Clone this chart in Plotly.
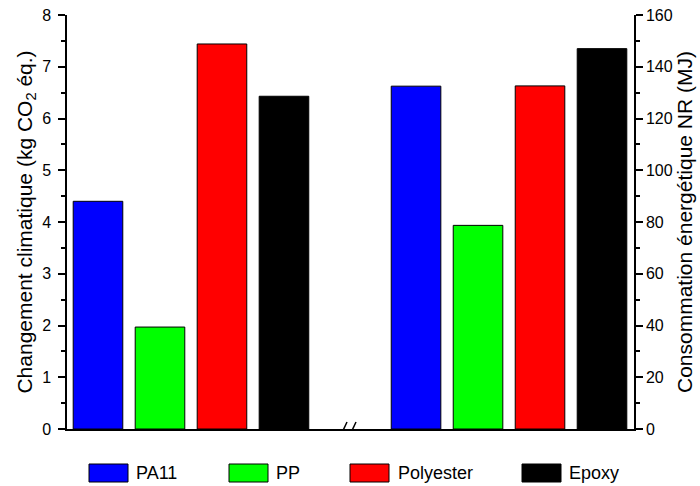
import plotly.graph_objects as go

# ---- data ----
materials = ["PA11", "PP", "Polyester", "Epoxy"]
colors = ["#0000FF", "#00FF00", "#FF0000", "#000000"]
climate_kgco2 = [4.40, 1.97, 7.44, 6.43]       # left axis
energy_mj = [132.5, 78.7, 132.6, 147.0]         # right axis
left_ticks = [0, 1, 2, 3, 4, 5, 6, 7, 8]
right_ticks = [0, 20, 40, 60, 80, 100, 120, 140, 160]

# ---- layout constants ----
W, H = 700, 486
L, R, T, B = 67, 66, 15, 57
PW, PH = W - L - R, H - T - B
group_offset = 5.13
bar_w = 0.8
FONT = "Liberation Sans, Arial, sans-serif"

def px_x(p):
    return (p - L) / PW

def px_y(p):
    return (H - B - p) / PH

fig = go.Figure()
for i, (m, c) in enumerate(zip(materials, colors)):
    fig.add_trace(go.Bar(x=[i], y=[climate_kgco2[i]], width=bar_w, marker=dict(color=c, line=dict(color="black", width=1)),
                         name=m, showlegend=False, yaxis="y", hoverinfo="skip"))
    fig.add_trace(go.Bar(x=[i + group_offset], y=[energy_mj[i]], width=bar_w, marker=dict(color=c, line=dict(color="black", width=1)),
                         name=m, showlegend=False, yaxis="y2", hoverinfo="skip"))

shapes = []
# axis break "//"
break_x = (len(materials) - 1 + group_offset) / 2
for dx in (-10, -1):
    shapes.append(dict(type="line", xref="x", yref="y", xsizemode="pixel", ysizemode="pixel",
                       xanchor=break_x, yanchor=0, x0=dx, x1=dx + 7, y0=-8, y1=7,
                       line=dict(color="black", width=1.5)))

# custom legend
legend_swatch_x = [89, 229, 350, 522]
legend_text_x = [134, 274, 396, 567]
annotations = []
for m, c, sx, tx in zip(materials, colors, legend_swatch_x, legend_text_x):
    shapes.append(dict(type="rect", xref="paper", yref="paper",
                       x0=px_x(sx), x1=px_x(sx + 39), y0=px_y(482), y1=px_y(464),
                       fillcolor=c, line=dict(color="black", width=1)))
    annotations.append(dict(text=m, xref="paper", yref="paper", x=px_x(tx), y=px_y(473),
                            xanchor="left", yanchor="middle", showarrow=False,
                            font=dict(family=FONT, size=18, color="black")))

fig.update_layout(
    width=W, height=H,
    margin=dict(l=L, r=R, t=T, b=B, autoexpand=False),
    paper_bgcolor="white", plot_bgcolor="white",
    barmode="overlay",
    showlegend=False,
    hovermode=False,
    font=dict(family=FONT, size=16, color="black"),
    xaxis=dict(range=[-0.5, len(materials) - 1 + group_offset + 0.516], showline=True, linecolor="black", linewidth=1.5,
               showticklabels=False, ticks="", showgrid=False, zeroline=False, fixedrange=True, automargin=False),
    yaxis=dict(range=[0, 8], tickvals=left_ticks, ticks="outside", ticklen=7, tickwidth=1.5, tickcolor="black",
               minor=dict(ticks="outside", ticklen=4, tickwidth=1.5, tickcolor="black", dtick=0.5, showgrid=False),
               showline=True, linecolor="black", linewidth=1.5, showgrid=False, zeroline=False, automargin=False,
               tickfont=dict(size=16), ticklabelstandoff=4,
               title=dict(text="Changement climatique (kg CO<sub>2</sub> éq.)", font=dict(size=21), standoff=4)),
    yaxis2=dict(range=[0, 160], tickvals=right_ticks, overlaying="y", side="right", ticks="outside", ticklen=7,
                tickwidth=1.5, tickcolor="black", automargin=False,
                minor=dict(ticks="outside", ticklen=4, tickwidth=1.5, tickcolor="black", dtick=10, showgrid=False),
                showline=True, linecolor="black", linewidth=1.5, showgrid=False, zeroline=False,
                tickfont=dict(size=16),
                title=dict(text="Consommation énergétique NR (MJ)", font=dict(size=21), standoff=4)),
    shapes=shapes,
    annotations=annotations,
)

fig.write_html("out.html", config={"displayModeBar": False},
               post_script="document.body.style.margin='0';")
